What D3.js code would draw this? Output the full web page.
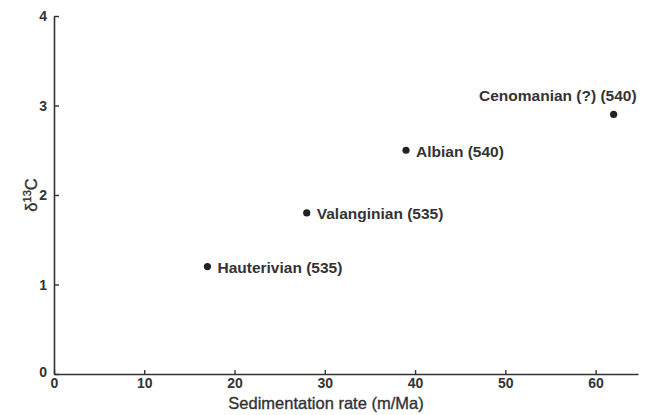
<!DOCTYPE html>
<html>
<head>
<meta charset="utf-8">
<script src="https://cdn.jsdelivr.net/npm/d3@7"></script>
<style>
  body { margin: 0; background: #fff; }
  svg { display: block; font-family: "Liberation Sans", Arial, sans-serif; }
  .tick text { font-size: 14px; font-weight: bold; fill: #333; }
  .lbl { font-size: 15.5px; font-weight: bold; fill: #333; }
  .axlbl { font-size: 16.5px; fill: #333; stroke: #333; stroke-width: 0.35px; }
</style>
</head>
<body>
<script>
// Stage data: sedimentation rate vs d13C
const stages = ["Hauterivian (535)", "Valanginian (535)", "Albian (540)", "Cenomanian (?) (540)"];
const rates = [17, 28, 39, 62];
const d13c = [1.2, 1.8, 2.5, 2.9];
const xTicks = [0, 10, 20, 30, 40, 50, 60];
const yTicks = [0, 1, 2, 3, 4];

const w = 650, h = 415;
const padL = 54, padT = 16, padR = 638, padB = 374;
const ink = "#333";

const svg = d3.select("body").append("svg")
  .attr("width", w)
  .attr("height", h);

const xScale = d3.scaleLinear().domain([0, 64.7]).range([padL, padR]);
const yScale = d3.scaleLinear().domain([0, 4]).range([padB, padT]);

//Axes
const xAxis = d3.axisBottom(xScale).tickValues(xTicks).tickFormat(d3.format("d"))
  .tickSize(-4).tickPadding(4).tickSizeOuter(0);
const yAxis = d3.axisLeft(yScale).tickValues(yTicks).tickFormat(d3.format("d"))
  .tickSize(-5).tickPadding(7).tickSizeOuter(0);

const gx = svg.append("g")
  .attr("transform", "translate(0," + padB + ")")
  .call(xAxis);
gx.select(".domain").attr("stroke", ink).attr("stroke-width", 1.6);
gx.selectAll(".tick line").attr("stroke", ink).attr("stroke-width", 1.4);

const gy = svg.append("g")
  .attr("transform", "translate(" + padL + ",0)")
  .call(yAxis);
gy.select(".domain").attr("stroke", ink).attr("stroke-width", 1.6);
gy.selectAll(".tick line").attr("stroke", ink).attr("stroke-width", 1.4);
// the 0 on the y axis sits a little above the x axis line
gy.selectAll(".tick text").attr("dy", d => d === 0 ? "0.2em" : "0.35em");

//Axis labels
svg.append("text")
  .attr("class", "axlbl")
  .attr("x", 326)
  .attr("y", 409)
  .attr("text-anchor", "middle")
  .text("Sedimentation rate (m/Ma)");

const yl = svg.append("text")
  .attr("class", "axlbl")
  .attr("transform", "translate(37,195) rotate(-90)")
  .attr("text-anchor", "middle");
yl.append("tspan").text("δ");
yl.append("tspan").attr("dy", "-6").style("font-size", "11px").text("13");
yl.append("tspan").attr("dy", "6").text("C");

//Points
const pts = stages.map((s, i) => ({ name: s, x: rates[i], y: d13c[i] }));

svg.selectAll("circle")
  .data(pts)
  .enter()
  .append("circle")
  .attr("cx", d => xScale(d.x))
  .attr("cy", d => yScale(d.y))
  .attr("r", 3.6)
  .attr("fill", "#222");

svg.selectAll("text.pt")
  .data(pts)
  .enter()
  .append("text")
  .attr("class", "lbl pt")
  .attr("x", (d, i) => i === 3 ? xScale(d.x) + 23 : xScale(d.x) + 10)
  .attr("y", (d, i) => i === 3 ? yScale(d.y) - 13 : yScale(d.y) + 6.5)
  .attr("text-anchor", (d, i) => i === 3 ? "end" : "start")
  .text(d => d.name);
</script>
</body>
</html>
